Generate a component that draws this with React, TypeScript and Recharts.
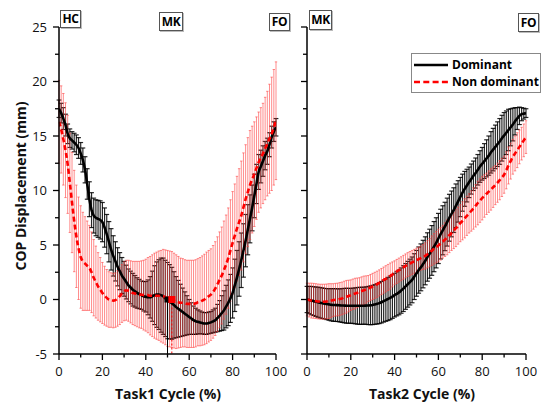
import React from 'react';
import { LineChart, Line, XAxis, YAxis, ErrorBar, ReferenceLine, ReferenceDot, Label } from 'recharts';

const FONT = '"Open Sans", "DejaVu Sans", sans-serif';

const cycle = [
  0,
  1, 2, 3, 4, 5, 6, 7, 8, 9, 10,
  11, 12, 13, 14, 15, 16, 17, 18, 19, 20,
  21, 22, 23, 24, 25, 26, 27, 28, 29, 30,
  31, 32, 33, 34, 35, 36, 37, 38, 39, 40,
  41, 42, 43, 44, 45, 46, 47, 48, 49, 50,
  51, 52, 53, 54, 55, 56, 57, 58, 59, 60,
  61, 62, 63, 64, 65, 66, 67, 68, 69, 70,
  71, 72, 73, 74, 75, 76, 77, 78, 79, 80,
  81, 82, 83, 84, 85, 86, 87, 88, 89, 90,
  91, 92, 93, 94, 95, 96, 97, 98, 99, 100,
];

const task1Dominant = [
  17.5,
  17.1, 16.6, 16.0, 15.2, 14.8, 14.6, 14.4, 14.2, 13.9, 13.4,
  12.8, 11.9, 10.6, 9.2, 8.2, 7.7, 7.5, 7.4, 7.3, 7.1,
  6.6, 6.0, 5.3, 4.6, 4.0, 3.5, 3.0, 2.6, 2.2, 1.9,
  1.6, 1.3, 1.1, 0.9, 0.75, 0.6, 0.5, 0.4, 0.3, 0.25,
  0.2, 0.2, 0.3, 0.4, 0.45, 0.45, 0.4, 0.3, 0.1, -0.1,
  -0.2, -0.35, -0.5, -0.7, -0.85, -1.0, -1.15, -1.3, -1.45, -1.6,
  -1.75, -1.9, -2.0, -2.05, -2.1, -2.15, -2.2, -2.2, -2.15, -2.1,
  -2.0, -1.9, -1.7, -1.5, -1.25, -1.0, -0.65, -0.3, 0.1, 0.6,
  1.3, 2.0, 2.8, 3.6, 4.5, 5.4, 6.4, 7.4, 8.4, 9.5,
  10.6, 11.7, 12.2, 12.7, 13.2, 13.6, 14.2, 14.9, 15.4, 15.8,
];
const task1DominantSD = [
  0.8,
  0.9, 1.0, 1.0, 0.9, 0.85, 0.8, 0.85, 0.9, 0.95, 1.0,
  1.1, 1.2, 1.4, 1.6, 1.6, 1.6, 1.65, 1.7, 1.75, 1.8,
  1.8, 1.8, 1.85, 1.9, 1.85, 1.8, 1.75, 1.7, 1.65, 1.6,
  1.55, 1.5, 1.5, 1.5, 1.45, 1.4, 1.35, 1.3, 1.35, 1.4,
  1.6, 1.9, 2.3, 2.7, 3.0, 3.2, 3.4, 3.5, 3.5, 3.5,
  3.4, 3.3, 3.05, 2.8, 2.6, 2.4, 2.2, 2.0, 1.8, 1.6,
  1.45, 1.3, 1.2, 1.1, 1.05, 1.0, 1.0, 1.0, 1.0, 1.0,
  1.05, 1.1, 1.25, 1.4, 1.6, 1.8, 1.95, 2.1, 2.2, 2.3,
  2.4, 2.5, 2.5, 2.5, 2.45, 2.4, 2.3, 2.2, 2.1, 2.0,
  1.8, 1.6, 1.5, 1.4, 1.3, 1.2, 1.1, 1.0, 0.9, 0.8,
];
const task1NonDominant = [
  16.3,
  15.6, 14.7, 13.7, 12.4, 10.7, 8.9, 7.2, 5.8, 4.7, 3.9,
  3.5, 3.3, 3.1, 2.9, 2.5, 2.0, 1.6, 1.2, 0.9, 0.6,
  0.35, 0.15, 0.0, -0.05, -0.1, -0.05, 0.1, 0.3, 0.55, 0.75,
  0.85, 0.8, 0.7, 0.6, 0.55, 0.5, 0.45, 0.45, 0.4, 0.4,
  0.4, 0.35, 0.35, 0.35, 0.35, 0.35, 0.3, 0.3, 0.2, 0.1,
  0.05, 0.0, -0.1, -0.2, -0.25, -0.3, -0.3, -0.35, -0.4, -0.4,
  -0.4, -0.4, -0.35, -0.25, -0.2, -0.1, 0.0, 0.15, 0.3, 0.45,
  0.7, 1.0, 1.4, 1.8, 2.2, 2.7, 3.2, 3.8, 4.5, 5.2,
  5.85, 6.5, 7.1, 7.7, 8.45, 9.2, 9.85, 10.5, 11.0, 11.5,
  12.05, 12.6, 13.0, 13.4, 13.85, 14.3, 14.75, 15.2, 15.8, 16.4,
];
const task1NonDominantSD = [
  3.8,
  4.0, 4.2, 4.35, 4.5, 4.55, 4.6, 4.65, 4.7, 4.7, 4.7,
  4.5, 4.3, 4.1, 3.9, 3.7, 3.5, 3.3, 3.1, 2.95, 2.8,
  2.7, 2.6, 2.55, 2.5, 2.5, 2.5, 2.55, 2.6, 2.65, 2.7,
  2.75, 2.8, 2.85, 2.9, 2.95, 3.0, 3.05, 3.1, 3.2, 3.3,
  3.45, 3.6, 3.75, 3.9, 4.0, 4.1, 4.2, 4.3, 4.35, 4.4,
  4.4, 4.4, 4.35, 4.3, 4.2, 4.1, 4.05, 4.0, 4.0, 4.0,
  4.0, 4.0, 4.0, 4.0, 4.05, 4.1, 4.15, 4.2, 4.2, 4.2,
  4.25, 4.3, 4.35, 4.4, 4.45, 4.5, 4.55, 4.6, 4.65, 4.7,
  4.75, 4.8, 4.9, 5.0, 5.0, 5.0, 5.0, 5.0, 4.9, 4.8,
  4.7, 4.6, 4.6, 4.6, 4.7, 4.8, 5.0, 5.2, 5.3, 5.4,
];

const task2Dominant = [
  0.0,
  -0.05, -0.1, -0.15, -0.2, -0.25, -0.3, -0.34, -0.38, -0.42, -0.45,
  -0.48, -0.5, -0.51, -0.52, -0.54, -0.55, -0.56, -0.57, -0.58, -0.58,
  -0.58, -0.58, -0.58, -0.58, -0.58, -0.57, -0.56, -0.55, -0.53, -0.5,
  -0.45, -0.4, -0.33, -0.25, -0.15, -0.05, 0.05, 0.15, 0.27, 0.4,
  0.52, 0.65, 0.82, 1.0, 1.2, 1.4, 1.6, 1.8, 2.1, 2.4,
  2.7, 2.95, 3.25, 3.55, 3.9, 4.2, 4.5, 4.85, 5.2, 5.6,
  6.0, 6.35, 6.7, 7.1, 7.5, 7.85, 8.2, 8.6, 9.0, 9.4,
  9.8, 10.15, 10.45, 10.75, 11.05, 11.35, 11.6, 11.9, 12.2, 12.45,
  12.7, 12.95, 13.2, 13.5, 13.75, 14.0, 14.25, 14.5, 14.8, 15.05,
  15.3, 15.55, 15.8, 16.05, 16.35, 16.6, 16.85, 17.0, 17.05, 17.1,
];
const task2DominantSD = [
  1.2,
  1.25, 1.3, 1.32, 1.35, 1.38, 1.4, 1.4, 1.4, 1.42, 1.45,
  1.48, 1.5, 1.5, 1.5, 1.52, 1.55, 1.58, 1.6, 1.6, 1.6,
  1.62, 1.65, 1.68, 1.7, 1.7, 1.7, 1.72, 1.75, 1.78, 1.8,
  1.82, 1.85, 1.88, 1.9, 1.92, 1.95, 1.98, 2.0, 2.0, 2.0,
  2.02, 2.05, 2.08, 2.1, 2.1, 2.1, 2.1, 2.1, 2.1, 2.1,
  2.12, 2.15, 2.18, 2.2, 2.22, 2.25, 2.28, 2.3, 2.3, 2.3,
  2.28, 2.25, 2.22, 2.2, 2.15, 2.1, 2.05, 2.0, 1.9, 1.8,
  1.7, 1.6, 1.5, 1.4, 1.38, 1.35, 1.38, 1.4, 1.45, 1.5,
  1.6, 1.7, 1.8, 1.9, 1.95, 2.0, 2.05, 2.1, 2.1, 2.1,
  2.0, 1.9, 1.7, 1.5, 1.25, 1.0, 0.8, 0.6, 0.5, 0.4,
];
const task2NonDominant = [
  0.0,
  -0.05, -0.1, -0.12, -0.15, -0.18, -0.2, -0.2, -0.2, -0.18, -0.15,
  -0.1, -0.05, -0.02, 0.0, 0.05, 0.1, 0.18, 0.25, 0.32, 0.4,
  0.48, 0.55, 0.62, 0.7, 0.78, 0.85, 0.92, 1.0, 1.1, 1.2,
  1.3, 1.4, 1.52, 1.65, 1.78, 1.9, 2.02, 2.15, 2.3, 2.45,
  2.58, 2.7, 2.82, 2.95, 3.08, 3.2, 3.3, 3.4, 3.5, 3.6,
  3.7, 3.8, 3.9, 4.0, 4.15, 4.3, 4.48, 4.65, 4.8, 4.95,
  5.12, 5.3, 5.5, 5.7, 5.9, 6.1, 6.32, 6.55, 6.78, 7.0,
  7.22, 7.45, 7.68, 7.9, 8.12, 8.35, 8.6, 8.85, 9.08, 9.3,
  9.5, 9.7, 9.9, 10.1, 10.3, 10.5, 10.72, 10.95, 11.2, 11.45,
  11.85, 12.3, 12.7, 13.1, 13.4, 13.7, 14.0, 14.3, 14.6, 14.9,
];
const task2NonDominantSD = [
  1.5,
  1.55, 1.6, 1.6, 1.6, 1.6, 1.6, 1.6, 1.6, 1.6, 1.6,
  1.55, 1.5, 1.5, 1.5, 1.5, 1.5, 1.5, 1.5, 1.45, 1.4,
  1.4, 1.4, 1.35, 1.3, 1.3, 1.3, 1.25, 1.2, 1.2, 1.2,
  1.2, 1.2, 1.2, 1.2, 1.2, 1.2, 1.2, 1.2, 1.15, 1.1,
  1.1, 1.1, 1.1, 1.1, 1.1, 1.1, 1.1, 1.1, 1.1, 1.1,
  1.1, 1.1, 1.15, 1.2, 1.25, 1.3, 1.35, 1.4, 1.45, 1.5,
  1.5, 1.5, 1.55, 1.6, 1.6, 1.6, 1.65, 1.7, 1.7, 1.7,
  1.75, 1.8, 1.8, 1.8, 1.85, 1.9, 1.95, 2.0, 2.0, 2.0,
  1.95, 1.9, 1.9, 1.9, 1.85, 1.8, 1.8, 1.8, 1.75, 1.7,
  1.7, 1.7, 1.65, 1.6, 1.6, 1.6, 1.55, 1.5, 1.5, 1.5,
];

const xTicks = [0, 10, 20, 30, 40, 50, 60, 70, 80, 90, 100];
const yTicks = [-5, -2.5, 0, 2.5, 5, 7.5, 10, 12.5, 15, 17.5, 20, 22.5, 25];

const task1MkDominant = { cycle: 50, y: 0 };
const task1MkNonDominant = { cycle: 52, y: 0 };

const seriesNames = ['Dominant', 'Non dominant'];

function makeRows(dom: number[], domSd: number[], nd: number[], ndSd: number[]) {
  return cycle.map((c, i) => ({ cycle: c, dom: dom[i], domErr: domSd[i], nd: nd[i], ndErr: ndSd[i] }));
}

const rows1 = makeRows(task1Dominant, task1DominantSD, task1NonDominant, task1NonDominantSD);
const rows2 = makeRows(task2Dominant, task2DominantSD, task2NonDominant, task2NonDominantSD);

const YTick = (props: any) => {
  const { x, y, payload, showLabel } = props;
  const v = payload.value;
  const major = Math.abs(v % 5) < 1e-6;
  const len = major ? 6 : 4;
  return (
    <g>
      <line x1={x} y1={y} x2={x - len} y2={y} stroke="#000" strokeWidth={1.3} />
      {showLabel && major ? (
        <text x={x - 12} y={y} dy="0.35em" textAnchor="end" fontSize={13} fontFamily={FONT} fill="#111">
          {v}
        </text>
      ) : null}
    </g>
  );
};

const XTick = (props: any) => {
  const { x, y, payload } = props;
  const v = payload.value;
  const major = v % 20 === 0;
  const len = major ? 6 : 3.5;
  return (
    <g>
      <line x1={x} y1={y} x2={x} y2={y + len} stroke="#000" strokeWidth={1.3} />
      {major ? (
        <text x={x} y={y + 17} dy="0.35em" textAnchor="middle" fontSize={13} fontFamily={FONT} fill="#111">
          {v}
        </text>
      ) : null}
    </g>
  );
};

const squareShape = (fill: string, size: number) => (p: any) => (
  <rect x={p.cx - size / 2} y={p.cy - size / 2} width={size} height={size} fill={fill} />
);

const Tag = ({ text, left, top, w, h }: { text: string; left: number; top: number; w: number; h: number }) => (
  <div
    style={{
      position: 'absolute',
      left,
      top,
      width: w,
      height: h,
      boxSizing: 'border-box',
      border: '1px solid #555',
      background: '#fff',
      fontFamily: FONT,
      fontWeight: 700,
      fontSize: 12,
      lineHeight: `${h - 2}px`,
      textAlign: 'center',
      color: '#000',
      boxShadow: '1px 1px 0 #bbb',
      letterSpacing: -0.3,
    }}
  >
    {text}
  </div>
);

function Panel({ rows, left, width, showYLabels, title, titleX, children }: any) {
  return (
    <div style={{ position: 'absolute', left, top: 0, width, height: 403 }}>
      <LineChart width={width} height={403} data={rows} margin={{ top: 27, right: showYLabels ? 14 : 16, bottom: 0, left: 0 }}>
        <XAxis
          dataKey="cycle"
          type="number"
          domain={[0, 100]}
          ticks={xTicks}
          interval={0}
          height={49}
          tickSize={0}
          tickMargin={0}
          tickLine={false}
          axisLine={{ stroke: '#000', strokeWidth: 1.5 }}
          tick={(p: any) => <XTick {...p} />}
          allowDataOverflow
        >
          <Label
            content={() => (
              <text x={titleX} y={399} textAnchor="middle" fontSize={14} fontWeight={700} fontFamily={FONT} fill="#111">
                {title}
              </text>
            )}
          />
        </XAxis>
        <YAxis
          type="number"
          domain={[-5, 25]}
          ticks={yTicks}
          interval={0}
          width={59}
          tickSize={0}
          tickMargin={0}
          tickLine={false}
          axisLine={{ stroke: '#000', strokeWidth: 1.5 }}
          tick={(p: any) => <YTick {...p} showLabel={showYLabels} />}
          allowDataOverflow
        >
          {showYLabels ? (
            <Label
              content={() => (
                <text
                  x={21}
                  y={186}
                  transform="rotate(-90 21 186)"
                  textAnchor="middle"
                  dy="0.35em"
                  fontSize={14}
                  fontWeight={700}
                  fontFamily={FONT}
                  fill="#111"
                >
                  COP Displacement (mm)
                </text>
              )}
            />
          ) : null}
        </YAxis>
        <Line dataKey="dom" stroke="none" dot={false} activeDot={false} isAnimationActive={false} legendType="none">
          <ErrorBar dataKey="domErr" direction="y" width={2.4} stroke="#000" strokeWidth={1.2} strokeOpacity={0.85} isAnimationActive={false} />
        </Line>
        <Line dataKey="nd" stroke="none" dot={false} activeDot={false} isAnimationActive={false} legendType="none">
          <ErrorBar dataKey="ndErr" direction="y" width={1.2} stroke="#ff4040" strokeWidth={1} strokeOpacity={0.6} isAnimationActive={false} />
        </Line>
        {children}
        <Line
          dataKey="dom"
          name={seriesNames[0]}
          type="monotone"
          stroke="#000"
          strokeWidth={2.6}
          dot={false}
          activeDot={false}
          isAnimationActive={false}
        />
        <Line
          dataKey="nd"
          name={seriesNames[1]}
          type="monotone"
          stroke="#ff0000"
          strokeWidth={2.6}
          strokeDasharray="5 3"
          dot={false}
          activeDot={false}
          isAnimationActive={false}
        />
        {showYLabels ? (
          <ReferenceDot x={task1MkDominant.cycle} y={task1MkDominant.y} r={3} shape={squareShape('#000', 6)} ifOverflow="visible" />
        ) : null}
        {showYLabels ? (
          <ReferenceDot x={task1MkNonDominant.cycle} y={task1MkNonDominant.y} r={3} shape={squareShape('#ff0000', 7)} ifOverflow="visible" />
        ) : null}
      </LineChart>
    </div>
  );
}

export default function App() {
  return (
    <div style={{ position: 'absolute', left: 0, top: 0, width: 542, height: 403, background: '#fff', overflow: 'hidden' }}>
      <Panel rows={rows1} left={0} width={290} showYLabels title="Task1 Cycle (%)" titleX={168}>
        <ReferenceLine
          segment={[{ x: task1MkDominant.cycle, y: task1MkDominant.y }, { x: task1MkDominant.cycle, y: -5 }]}
          stroke="#000"
          strokeWidth={1}
        />
        <ReferenceLine
          segment={[{ x: task1MkNonDominant.cycle, y: task1MkNonDominant.y }, { x: task1MkNonDominant.cycle, y: -5 }]}
          stroke="#ff0000"
          strokeWidth={1}
          strokeDasharray="2 2"
        />
      </Panel>
      <Panel rows={rows2} left={248} width={294} showYLabels={false} title="Task2 Cycle (%)" titleX={174} />

      <Tag text="HC" left={60} top={10} w={21} h={18} />
      <Tag text="MK" left={159} top={12} w={24} h={19} />
      <Tag text="FO" left={269} top={13} w={21} h={18} />
      <Tag text="MK" left={309} top={10} w={23} h={20} />
      <Tag text="FO" left={518} top={13} w={21} h={19} />

      <div
        style={{
          position: 'absolute',
          left: 411,
          top: 53,
          width: 130,
          height: 40,
          boxSizing: 'border-box',
          border: '1px solid #888',
          background: '#fff',
          fontFamily: FONT,
          fontWeight: 700,
          fontSize: 12,
          color: '#000',
        }}
      >
        {seriesNames.map((n, i) => (
          <div key={n} style={{ position: 'absolute', left: 2, top: i === 0 ? 2 : 19, height: 17, display: 'flex', alignItems: 'center', whiteSpace: 'nowrap' }}>
            <svg width={36} height={6} style={{ display: 'block' }}>
              <line
                x1={0}
                y1={3}
                x2={34}
                y2={3}
                stroke={i === 0 ? '#000' : '#ff0000'}
                strokeWidth={2.5}
                strokeDasharray={i === 0 ? undefined : '6 3.3'}
              />
            </svg>
            <span style={{ marginLeft: 2 }}>{n}</span>
          </div>
        ))}
      </div>
    </div>
  );
}
